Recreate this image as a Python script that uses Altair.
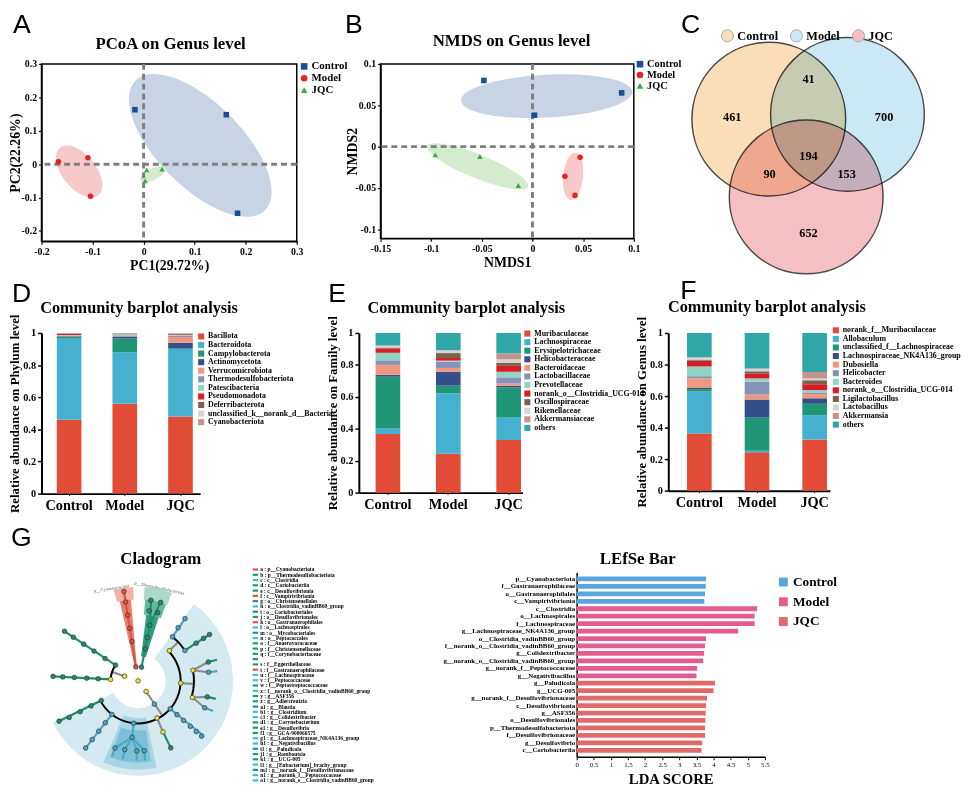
import altair as alt
import pandas as pd

SERIF = "Liberation Serif"
SANS = "Liberation Sans"
NUM = "'' + datum.value"

# ======================= DATA =======================
groups = ["Control", "Model", "JQC"]
panel_titles = ["PCoA on Genus level", "NMDS on Genus level", "Community barplot analysis",
                "Cladogram", "LEfSe Bar"]

# ---- A: PCoA ----
pcoa_group = ["Control", "Control", "Control", "Model", "Model", "Model", "JQC", "JQC", "JQC"]
pcoa_pc1 = [-0.017, 0.162, 0.184, -0.167, -0.109, -0.104, 0.006, 0.036, 0.003]
pcoa_pc2 = [0.163, 0.148, -0.147, 0.007, 0.019, -0.096, -0.017, -0.015, -0.050]
pcoa_ell_x = [0.111, -0.126, 0.018]
pcoa_ell_y = [0.056, -0.022, -0.030]
pcoa_ticks = [-0.2, -0.1, 0, 0.1, 0.2, 0.3]

# ---- B: NMDS ----
nmds_group = ["Control", "Control", "Control", "Model", "Model", "Model", "JQC", "JQC", "JQC"]
nmds_1 = [-0.048, 0.088, 0.002, 0.047, 0.032, 0.042, -0.096, -0.052, -0.014]
nmds_2 = [0.080, 0.065, 0.038, -0.013, -0.036, -0.059, -0.010, -0.012, -0.047]
nmds_ell_x = [0.014, 0.040, -0.054]
nmds_ell_y = [0.061, -0.036, -0.024]
nmds_ticks_x = [-0.15, -0.1, -0.05, 0, 0.05, 0.1]
nmds_ticks_y = [-0.1, -0.05, 0, 0.05, 0.1]

# ---- C: Venn ----
venn_sets = ["Control", "Model", "JQC"]
venn_cx = [0.0, 1.01, 0.48]
venn_cy = [0.0, 0.06, -1.0]
venn_counts = ["461", "41", "700", "194", "90", "153", "652"]
venn_count_x = [-0.47, 0.51, 1.48, 0.51, 0.01, 1.0, 0.51]
venn_count_y = [0.03, 0.51, 0.03, -0.47, -0.71, -0.71, -1.46]

# ---- D: phylum ----
phylum_taxa = ["Bacillota", "Bacteroidota", "Campylobacterota", "Actinomycetota", "Verrucomicrobiota",
               "Thermodesulfobacteriota", "Patescibacteria", "Pseudomonadota", "Deferribacterota",
               "unclassified_k__norank_d__Bacteria", "Cyanobacteriota"]
phylum_control = [0.460, 0.505, 0.012, 0.003, 0.002, 0.002, 0.003, 0.008, 0.002, 0.001, 0.002]
phylum_model = [0.560, 0.320, 0.085, 0.013, 0.002, 0.005, 0.008, 0.002, 0.002, 0.001, 0.002]
phylum_jqc = [0.480, 0.420, 0.005, 0.035, 0.035, 0.008, 0.005, 0.004, 0.003, 0.001, 0.004]

# ---- E: family ----
family_taxa = ["Muribaculaceae", "Lachnospiraceae", "Erysipelotrichaceae", "Helicobacteraceae",
               "Bacteroidaceae", "Lactobacillaceae", "Prevotellaceae", "norank_o__Clostridia_UCG-014",
               "Oscillospiraceae", "Rikenellaceae", "Akkermansiaceae", "others"]
family_control = [0.367, 0.035, 0.324, 0.012, 0.062, 0.029, 0.047, 0.027, 0.006, 0.010, 0.003, 0.078]
family_model = [0.243, 0.380, 0.047, 0.087, 0.024, 0.040, 0.006, 0.016, 0.031, 0.017, 0.002, 0.107]
family_jqc = [0.330, 0.140, 0.190, 0.010, 0.015, 0.037, 0.035, 0.037, 0.018, 0.023, 0.037, 0.128]

# ---- F: genus ----
genus_taxa = ["norank_f__Muribaculaceae", "Allobaculum", "unclassified_f__Lachnospiraceae",
              "Lachnospiraceae_NK4A136_group", "Dubosiella", "Helicobacter", "Bacteroides",
              "norank_o__Clostridia_UCG-014", "Ligilactobacillus", "Lactobacillus", "Akkermansia", "others"]
genus_control = [0.362, 0.266, 0.016, 0.010, 0.058, 0.014, 0.062, 0.035, 0.005, 0.016, 0.002, 0.154]
genus_model = [0.243, 0.010, 0.210, 0.115, 0.031, 0.082, 0.021, 0.029, 0.016, 0.015, 0.002, 0.226]
genus_jqc = [0.325, 0.154, 0.072, 0.035, 0.027, 0.010, 0.015, 0.037, 0.025, 0.012, 0.041, 0.247]
bar_ticks = [0, 0.2, 0.4, 0.6, 0.8, 1]

# ---- G: cladogram ----
clado_classes = ["Control", "Model", "JQC", "none"]
sect_a1 = [36, 168, 171, 345, 347, 4, 5, 7]
sect_a2 = [244, 203, 200, 357, 355, 21, 20, 18]
sect_r1 = [31, 42, 56, 92, 14, 92, 75, 28]
sect_r2 = [107, 100, 92, 106, 92, 106, 92, 75]
arc_r = [48, 63, 63, 31]
arc_a1 = [45, 38, 79, 273]
arc_a2 = [242, 57, 107, 305]
edge_a1 = [351, 14, 12, 12, 289, 305, 273, 143, 46, 38, 57, 93, 79, 79, 75, 83, 107, 107, 103, 112,
           131, 153, 154, 186, 186, 186, 186, 186, 175, 181, 191, 199, 218, 242]
edge_r1 = [16, 16, 64, 64, 16, 31, 31, 15, 49, 63, 63, 48, 63, 63, 82, 80, 64, 64, 80, 81,
           48, 47, 64, 48, 64, 64, 64, 64, 79, 79, 79, 80, 48, 47]
edge_a2 = [351, 12, 9, 16, 289, 304, 273, 145, 46, 37, 57, 93, 75, 83, 75, 83, 103, 112, 103, 112,
           130, 154, 154, 186, 175, 181, 191, 199, 175, 181, 191, 199, 218, 243]
edge_r2 = [104, 64, 94, 94, 31, 102, 97, 48, 63, 90, 96, 63, 82, 80, 92, 90, 80, 81, 90, 91,
           95, 64, 84, 64, 79, 79, 79, 80, 90, 90, 90, 90, 97, 101]
edge_cls = ["Control", "JQC", "JQC", "JQC", "none", "JQC", "JQC", "none", "none", "Model",
            "JQC", "none", "none", "none", "JQC", "Model", "none", "none", "JQC", "Model",
            "Model", "none", "JQC", "Model", "Model", "Model", "Model", "Model", "Model", "Model",
            "Model", "Model", "Model", "JQC"]
node_a = [0,
          351, 351, 351, 351, 351, 351,
          14, 13, 12, 12, 9, 16, 9, 16,
          289, 273, 305,
          304, 304, 304, 304, 304,
          273, 273, 273, 273, 273,
          143, 145,
          46, 93, 131, 153, 186, 218, 242,
          38, 57, 37, 37, 57, 57, 57,
          79, 107,
          75, 83, 103, 112,
          131, 131, 131, 131, 131,
          154, 154,
          186,
          175, 181, 191, 199,
          218, 218, 218, 218,
          242, 242, 242, 243]
node_r = [0,
          16, 45, 60, 75, 90, 102,
          16, 37, 50, 64, 80, 80, 92, 92,
          16, 31, 31,
          45, 60, 74, 88, 100,
          45, 58, 72, 85, 96,
          15, 32,
          49, 48, 48, 47, 48, 48, 47,
          63, 63, 75, 88, 78, 88, 96,
          63, 64,
          82, 80, 80, 81,
          58, 68, 78, 87, 95,
          64, 84,
          64,
          79, 79, 79, 80,
          60, 72, 84, 96,
          60, 74, 88, 100]
node_cls = (["none"] + ["Control"] * 6 + ["JQC"] * 8 + ["none", "none", "JQC"] + ["JQC"] * 10
            + ["none", "Model"] + ["none", "none", "Model", "none", "Model", "Model", "JQC"]
            + ["Model"] * 4 + ["JQC"] * 3 + ["none", "none"] + ["JQC", "Model", "JQC", "Model"]
            + ["Model"] * 5 + ["none", "JQC"] + ["Model"] + ["Model"] * 4 + ["Model"] * 4 + ["JQC"] * 4)
clado_phyla = ["p__Cyanobacteriota", "p__Thermodesulfobacteriota"]
clado_phyla_a = [344, 13]
clado_phyla_r = [108, 107]

# ---- G: clade key ----
key_code = ["a", "b", "c", "d", "e", "f", "g", "h", "i", "j", "k", "l", "m", "n", "o", "p", "q", "r",
            "s", "t", "u", "v", "w", "x", "y", "z", "a1", "b1", "c1", "d1", "e1", "f1", "g1", "h1",
            "i1", "j1", "k1", "l1", "m1", "n1", "o1"]
key_name = ["p__Cyanobacteriota", "p__Thermodesulfobacteriota", "c__Clostridia", "c__Coriobacteriia",
            "c__Desulfovibrionia", "c__Vampirivibrionia", "o__Christensenellales",
            "o__Clostridia_vadinBB60_group", "o__Coriobacteriales", "o__Desulfovibrionales",
            "o__Gastranaerophilales", "o__Lachnospirales", "o__Mycobacteriales", "o__Peptococcales",
            "f__Anaerovoracaceae", "f__Christensenellaceae", "f__Corynebacteriaceae", "",
            "f__Eggerthellaceae", "f__Gastranaerophilaceae", "f__Lachnospiraceae", "f__Peptococcaceae",
            "f__Peptostreptococcaceae", "f__norank_o__Clostridia_vadinBB60_group", "g__ASF356",
            "g__Adlercreutzia", "g__Blautia", "g__Clostridium", "g__Colidextribacter",
            "g__Corynebacterium", "g__Desulfovibrio", "g__GCA-900066575",
            "g__Lachnospiraceae_NK4A136_group", "g__Negativibacillus", "g__Paludicola",
            "g__Romboutsia", "g__UCG-005", "g__[Eubacterium]_brachy_group",
            "g__norank_f__Desulfovibrionaceae", "g__norank_f__Peptococcaceae",
            "g__norank_o__Clostridia_vadinBB60_group"]
key_cls = ["Control", "JQC", "Model", "JQC", "JQC", "Control", "JQC", "Model", "JQC", "JQC",
           "Control", "Model", "JQC", "Model", "JQC", "JQC", "JQC", "JQC", "JQC", "Control",
           "Model", "Model", "JQC", "Model", "JQC", "JQC", "JQC", "Model", "Model", "JQC",
           "JQC", "JQC", "Model", "Model", "JQC", "JQC", "JQC", "Model", "JQC", "Model", "Model"]

# ---- G: LEfSe ----
lefse_features = ["p__Cyanobacteriota", "f__Gastranaerophilaceae", "o__Gastranaerophilales",
                  "c__Vampirivibrionia", "c__Clostridia", "o__Lachnospirales", "f__Lachnospiraceae",
                  "g__Lachnospiraceae_NK4A136_group", "o__Clostridia_vadinBB60_group",
                  "f__norank_o__Clostridia_vadinBB60_group", "g__Colidextribacter",
                  "g__norank_o__Clostridia_vadinBB60_group", "g__norank_f__Peptococcaceae",
                  "g__Negativibacillus", "g__Paludicola", "g__UCG-005",
                  "g__norank_f__Desulfovibrionaceae", "c__Desulfovibrionia", "g__ASF356",
                  "o__Desulfovibrionales", "p__Thermodesulfobacteriota", "f__Desulfovibrionaceae",
                  "g__Desulfovibrio", "c__Coriobacteriia"]
lefse_group = ["Control"] * 4 + ["Model"] * 10 + ["JQC"] * 10
lefse_lda = [3.78, 3.77, 3.75, 3.73, 5.27, 5.20, 5.20, 4.72, 3.78, 3.75, 3.72, 3.70, 3.52, 3.50,
             4.04, 4.00, 3.81, 3.78, 3.77, 3.76, 3.75, 3.75, 3.67, 3.65]
lefse_ticks = [0, 0.5, 1, 1.5, 2, 2.5, 3, 3.5, 4, 4.5, 5, 5.5]

# ======================= STYLES =======================
SCATTER_COLORS = ["#1A4C97", "#E5231F", "#3BAA4A"]
SCATTER_SHAPES = ["square", "circle", "triangle-up"]
ELL_COLORS = ["#C8D4E3", "#F8C9C9", "#D5EBCE"]
PCOA_ELL = [(93, 0.46, 45), (31, 0.55, 51), (14, 0.42, 335)]
NMDS_ELL = [(87, 0.25, 357), (24, 0.42, 96), (55, 0.22, 22)]
VENN_COLORS = ["#F9DEB8", "#CBE9F5", "#F5C0C3"]
VENN_R = 78
PHYLUM_COLORS = ["#E24C36", "#45B0CF", "#1F9676", "#34508B", "#F0977D", "#8592BA", "#92D4C2",
                 "#DA1C26", "#7E6148", "#D5D5D5", "#C6928A"]
TAXA_COLORS = ["#E24C36", "#45B0CF", "#1F9676", "#34508B", "#F0977D", "#8592BA", "#92D4C2",
               "#DA1C26", "#7E6148", "#D5D5D5", "#C6928A", "#2FA7A9"]
CLADO_FILL = ["#E0523E", "#4AA8C4", "#1F8E6F", "#F2E530"]
CLADO_LINE = ["#E0523E", "#4AA8C4", "#1F8E6F", "#8C8C8C"]
SECT_COLORS = ["#D4E9F0", "#A8D5E3", "#7DC0D5", "#F3B2A6", "#E7806E", "#A9D9C9", "#62B99F", "#2F9E7F"]
LEFSE_COLORS = ["#5AA5DB", "#E45C8F", "#E06A6A"]
KEY_COLORS = ["#E0523E", "#4AB6D8", "#1F9676"]

INDEP = dict(color="independent", shape="independent", fill="independent", strokeWidth="independent")


def ellipse_path(k):
    return f"M -2 0 A 2 {2 * k} 0 1 1 2 0 A 2 {2 * k} 0 1 1 -2 0 Z"


def txt(t, x, y, size, font=SERIF, weight="bold", align="left", color="black"):
    return alt.Chart(pd.DataFrame({"t": [t]})).mark_text(
        font=font, fontSize=size, fontWeight=weight, align=align, baseline="alphabetic", color=color
    ).encode(text="t:N", x=alt.value(x), y=alt.value(y))


def letter(t, x, y):
    return txt(t, x, y, 27, font=SANS, weight="normal")


def spacer(w):
    return alt.Chart(pd.DataFrame({"v": [0]})).mark_point(opacity=0).encode(
        x=alt.value(0), y=alt.value(0)).properties(width=w, height=1)


def ordination(let, title, xlab, ylab, grp, xv, yv, ex, ey, est, xdom, ydom, xt, yt, w, h,
               title_xy, let_xy, leg_xy, ypad, lsize):
    xs = alt.Scale(domain=xdom, nice=False, zero=False)
    ys = alt.Scale(domain=ydom, nice=False, zero=False)
    common = dict(grid=False, domainColor="black", domainWidth=1.5, tickColor="black", tickWidth=1.2,
                  tickSize=3, labelFont=SERIF, labelFontWeight="bold", labelFontSize=10,
                  labelColor="black", labelExpr=NUM, labelFlush=False, labelOverlap=False,
                  titleFont=SERIF, titleFontWeight="bold", titleFontSize=14, titleColor="black",
                  labelPadding=2)
    ax = alt.Axis(values=xt, title=xlab, titlePadding=3, **common)
    ay = alt.Axis(values=yt, title=ylab, titlePadding=ypad, **common)
    layers = []
    for i in range(3):
        a, k, ang = est[i]
        d = pd.DataFrame({"ex": [ex[i]], "ey": [ey[i]]})
        layers.append(alt.Chart(d).mark_point(
            shape=ellipse_path(k), filled=True, color=ELL_COLORS[i], opacity=1, size=a * a,
            angle=ang, strokeWidth=0
        ).encode(x=alt.X("ex:Q", scale=xs, axis=ax), y=alt.Y("ey:Q", scale=ys, axis=ay)))
    zero = pd.DataFrame({"z": [0.0]})
    layers.append(alt.Chart(zero).mark_rule(color="#7F7F7F", strokeDash=[6, 4], strokeWidth=3).encode(
        x=alt.X("z:Q", scale=xs, axis=ax)))
    layers.append(alt.Chart(zero).mark_rule(color="#7F7F7F", strokeDash=[6, 4], strokeWidth=3).encode(
        y=alt.Y("z:Q", scale=ys, axis=ay)))
    pts = pd.DataFrame({"group": grp, "x": xv, "y": yv})
    leg = alt.Legend(title=None, orient="none", legendX=leg_xy[0], legendY=leg_xy[1],
                     labelFont=SERIF, labelFontWeight="bold", labelFontSize=lsize, labelColor="black",
                     symbolSize=45, symbolStrokeWidth=0, rowPadding=0, labelOffset=2)
    layers.append(alt.Chart(pts).mark_point(filled=True, size=32, opacity=1).encode(
        x=alt.X("x:Q", scale=xs, axis=ax), y=alt.Y("y:Q", scale=ys, axis=ay),
        color=alt.Color("group:N", scale=alt.Scale(domain=groups, range=SCATTER_COLORS), legend=leg),
        shape=alt.Shape("group:N", scale=alt.Scale(domain=groups, range=SCATTER_SHAPES), legend=leg)))
    layers.append(txt(title, title_xy[0], title_xy[1], 17, align="center"))
    layers.append(letter(let, let_xy[0], let_xy[1]))
    return alt.layer(*layers).properties(
        width=w, height=h, view=alt.ViewBackground(stroke="black", strokeWidth=1.5))


# ---------------- Row 1 ----------------
panel_a = ordination("A", panel_titles[0], "PC1(29.72%)", "PC2(22.26%)", pcoa_group, pcoa_pc1, pcoa_pc2,
                     pcoa_ell_x, pcoa_ell_y, PCOA_ELL, [-0.2, 0.3], [-0.231, 0.3], pcoa_ticks, pcoa_ticks,
                     259, 180, (131, -15), (-29, -31), (261, -3), -2, 11)
panel_b = ordination("B", panel_titles[1], "NMDS1", "NMDS2", nmds_group, nmds_1, nmds_2,
                     nmds_ell_x, nmds_ell_y, NMDS_ELL, [-0.15, 0.1], [-0.111, 0.1], nmds_ticks_x,
                     nmds_ticks_y, 257, 177, (133, -18), (-36, -31), (258, -5), -4, 10.5)

vxs = alt.Scale(domain=[-0.658, 2.0], nice=False, zero=False)
vys = alt.Scale(domain=[-1.557, 0.709], nice=False, zero=False)
venn_leg = alt.Legend(title=None, orient="none", legendX=3, legendY=-36, direction="horizontal",
                      symbolType="circle", symbolSize=150, symbolStrokeColor="#AAAAAA",
                      symbolStrokeWidth=1, labelFont=SERIF, labelFontWeight="bold", labelFontSize=12.5,
                      labelColor="black", columnPadding=9, labelOffset=3)
venn_circles = alt.Chart(pd.DataFrame({"set": venn_sets, "cx": venn_cx, "cy": venn_cy})).mark_point(
    shape="circle", filled=True, size=(2 * VENN_R) ** 2, opacity=1, stroke="#4A4A4A", strokeWidth=1.5,
    blend="multiply"
).encode(x=alt.X("cx:Q", scale=vxs, axis=None), y=alt.Y("cy:Q", scale=vys, axis=None),
         color=alt.Color("set:N", scale=alt.Scale(domain=venn_sets, range=VENN_COLORS), legend=venn_leg))
venn_text = alt.Chart(pd.DataFrame({"n": venn_counts, "x": venn_count_x, "y": venn_count_y})).mark_text(
    font=SERIF, fontWeight="bold", fontSize=12.5, color="black", align="center", baseline="middle"
).encode(x=alt.X("x:Q", scale=vxs, axis=None), y=alt.Y("y:Q", scale=vys, axis=None), text="n:N")
panel_c = alt.layer(venn_circles, venn_text, letter("C", -37, -31)).properties(width=210, height=179)

row1 = alt.hconcat(panel_a, spacer(85), panel_b, spacer(85), panel_c, spacing=0,
                   bounds="flush").resolve_scale(**INDEP).resolve_legend(color="independent",
                                                                         shape="independent")


# ---------------- Row 2 ----------------
def community(let, lvl, taxa, colors, vals, w, h, band, leg_xy, title_xy, let_xy):
    rows = []
    for g, vv in zip(groups, vals):
        for i, (t, v) in enumerate(zip(taxa, vv)):
            rows.append({"group": g, "taxon": t, "idx": i, "value": v})
    df = pd.DataFrame(rows)
    pi, po, al = band
    xa = alt.Axis(title=None, labelAngle=0, labelFont=SERIF, labelFontWeight="bold", labelFontSize=14.5,
                  labelColor="black", domainColor="black", domainWidth=2, tickColor="black",
                  tickSize=2, labelPadding=3)
    ya = alt.Axis(title=f"Relative abundance on {lvl} level", values=bar_ticks, labelExpr=NUM, grid=False,
                  domainColor="black", domainWidth=2, tickColor="black", tickWidth=1.5, tickSize=4,
                  labelFont=SERIF, labelFontWeight="bold", labelFontSize=10.5, labelColor="black",
                  labelFlush=False, titleFont=SERIF, titleFontWeight="bold", titleFontSize=13,
                  titleColor="black", titlePadding=1, labelPadding=2)
    leg = alt.Legend(title=None, orient="none", legendX=leg_xy[0], legendY=leg_xy[1], symbolType="square",
                     symbolSize=38, symbolStrokeWidth=0, labelFont=SERIF, labelFontWeight="bold",
                     labelFontSize=8, labelColor="black", rowPadding=0.7, labelOffset=3, labelLimit=400)
    bars = alt.Chart(df).mark_bar().encode(
        x=alt.X("group:N", sort=groups, scale=alt.Scale(paddingInner=pi, paddingOuter=po, align=al), axis=xa),
        y=alt.Y("value:Q", stack="zero", scale=alt.Scale(domain=[0, 1], nice=False), axis=ya),
        color=alt.Color("taxon:N", sort=taxa, scale=alt.Scale(domain=taxa, range=colors), legend=leg),
        order=alt.Order("idx:Q", sort="ascending"))
    return alt.layer(bars, txt(panel_titles[2], title_xy[0], title_xy[1], 16.5, align="center"),
                     letter(let, let_xy[0], let_xy[1])).properties(width=w, height=h)


panel_d = community("D", "Phylum", phylum_taxa, PHYLUM_COLORS, [phylum_control, phylum_model, phylum_jqc],
                    161, 163, (0.5575, 0.2035, 0.674), (158, -0.5), (99, -20), (-30, -31))
panel_e = community("E", "Family", family_taxa, TAXA_COLORS, [family_control, family_model, family_jqc],
                    166, 162, (0.5918, 0.151, 0.919), (167, -3.4), (109, -20), (-31, -31))
panel_f = community("F", "Genus", genus_taxa, TAXA_COLORS, [genus_control, genus_model, genus_jqc],
                    164, 160, (0.5726, 0.188, 0.864), (166, -6.7), (100, -21), (12, -34))
row2 = alt.hconcat(panel_d, spacer(161), panel_e, spacer(148), panel_f, spacing=0,
                   bounds="flush").resolve_scale(**INDEP).resolve_legend(color="independent")

# ---------------- Row 3 ----------------
K = 0.9
CW, CH, CX0, CY0 = 210, 187, 98, 110
cxs = alt.Scale(domain=[-CX0 / K, (CW - CX0) / K], nice=False, zero=False)
cys = alt.Scale(domain=[-(CH - CY0) / K, CY0 / K], nice=False, zero=False)
th_scale = alt.Scale(domain=[0, 360], range=[0, 6.283185307179586])
rad_scale = alt.Scale(type="linear", domain=[0, 100], range=[0, 100 * K], zero=True)
CX = alt.X("cx:Q", scale=cxs, axis=None)
CY = alt.Y("cy:Q", scale=cys, axis=None)

clado_layers = []
for i in range(len(sect_a1)):
    d = pd.DataFrame({"cx": [0], "cy": [0], "a1": [sect_a1[i]], "a2": [sect_a2[i]],
                      "r1": [sect_r1[i]], "r2": [sect_r2[i]]})
    clado_layers.append(alt.Chart(d).mark_arc(color=SECT_COLORS[i], opacity=1).encode(
        x=CX, y=CY, theta=alt.Theta("a1:Q", scale=th_scale, stack=None), theta2="a2:Q",
        radius=alt.Radius("r2:Q", scale=rad_scale), radius2="r1:Q"))

edf = pd.DataFrame({"a1": edge_a1, "r1": edge_r1, "a2": edge_a2, "r2": edge_r2, "cls": edge_cls})
clado_layers.append(alt.Chart(edf).transform_calculate(
    x1="datum.r1 * sin(datum.a1 * PI / 180)", y1="datum.r1 * cos(datum.a1 * PI / 180)",
    x2="datum.r2 * sin(datum.a2 * PI / 180)", y2="datum.r2 * cos(datum.a2 * PI / 180)"
).mark_rule().encode(
    x=alt.X("x1:Q", scale=cxs, axis=None), y=alt.Y("y1:Q", scale=cys, axis=None),
    x2="x2:Q", y2="y2:Q",
    color=alt.Color("cls:N", scale=alt.Scale(domain=clado_classes, range=CLADO_LINE), legend=None),
    strokeWidth=alt.StrokeWidth("cls:N", scale=alt.Scale(domain=clado_classes, range=[2.2, 2.2, 2.2, 1]),
                                legend=None)))

adf = pd.DataFrame({"cx": [0] * len(arc_r), "cy": [0] * len(arc_r), "r": arc_r, "a1": arc_a1, "a2": arc_a2})
clado_layers.append(alt.Chart(adf).transform_calculate(
    ro="datum.r + 1.1", ri="datum.r - 1.1").mark_arc(color="black").encode(
    x=CX, y=CY, theta=alt.Theta("a1:Q", scale=th_scale, stack=None), theta2="a2:Q",
    radius=alt.Radius("ro:Q", scale=rad_scale), radius2="ri:Q"))

ndf = pd.DataFrame({"a": node_a, "r": node_r, "cls": node_cls})
clado_leg = alt.Legend(title=None, orient="none", legendX=-16.5, legendY=-9, values=groups,
                       symbolType="circle", symbolSize=121, symbolStrokeColor="black", symbolStrokeWidth=1.5,
                       labelFont=SERIF, labelFontWeight="bold", labelFontSize=13.5, labelColor="black",
                       rowPadding=3, labelOffset=2)
clado_layers.append(alt.Chart(ndf).transform_calculate(
    x="datum.r * sin(datum.a * PI / 180)", y="datum.r * cos(datum.a * PI / 180)"
).mark_circle(size=22, opacity=1, stroke="#333333", strokeWidth=0.7).encode(
    x=alt.X("x:Q", scale=cxs, axis=None), y=alt.Y("y:Q", scale=cys, axis=None),
    fill=alt.Fill("cls:N", scale=alt.Scale(domain=clado_classes, range=CLADO_FILL), legend=clado_leg)))

for i in range(len(clado_phyla)):
    d = pd.DataFrame({"t": [clado_phyla[i]], "a": [clado_phyla_a[i]], "r": [clado_phyla_r[i]]})
    clado_layers.append(alt.Chart(d).transform_calculate(
        x="datum.r * sin(datum.a * PI / 180)", y="datum.r * cos(datum.a * PI / 180)"
    ).mark_text(font=SERIF, fontSize=4.5, color="#555555", angle=[352, 12][i], align="center").encode(
        x=alt.X("x:Q", scale=cxs, axis=None), y=alt.Y("y:Q", scale=cys, axis=None), text="t:N"))

clado_layers.append(txt(panel_titles[3], 121, -9, 17, align="center"))
clado_layers.append(letter("G", -31, -27))
# invisible anchor that keeps the gap above row G as in the figure
clado_layers.append(alt.Chart(pd.DataFrame({"v": [0]})).mark_point(opacity=0, size=1).encode(
    x=alt.value(0), y=alt.value(-59)))
panel_g = alt.layer(*clado_layers).properties(width=CW, height=CH)

# clade key list
KEY_STEP = 5.35
key_labels = [f"{c} : {n}" if n else "" for c, n in zip(key_code, key_name)]
kdf = pd.DataFrame({"i": list(range(len(key_code))), "label": key_labels, "cls": key_cls})
d0 = 3 / KEY_STEP
kys = alt.Scale(domain=[d0, d0 + CH / KEY_STEP], reverse=True, nice=False, zero=False)
key_dash = alt.Chart(kdf).mark_point(shape="M -1 -0.4 L 1 -0.4 L 1 0.4 L -1 0.4 Z", filled=True,
                                      size=30, opacity=1).encode(
    x=alt.value(3), y=alt.Y("i:Q", scale=kys, axis=None),
    color=alt.Color("cls:N", scale=alt.Scale(domain=groups, range=KEY_COLORS), legend=None))
key_text = alt.Chart(kdf).mark_text(font=SERIF, fontWeight="bold", fontSize=5.5, color="black",
                                     align="left", baseline="middle").encode(
    x=alt.value(8), y=alt.Y("i:Q", scale=kys, axis=None), text="label:N")
panel_key = alt.layer(key_dash, key_text).properties(width=200, height=CH)

# LEfSe
ldf = pd.DataFrame({"feature": lefse_features, "group": lefse_group, "lda": lefse_lda})
lefse_leg = alt.Legend(title=None, orient="none", legendX=203, legendY=3, symbolType="square",
                       symbolSize=81, symbolStrokeWidth=0, labelFont=SERIF, labelFontWeight="bold",
                       labelFontSize=13.5, labelColor="black", rowPadding=5, labelOffset=3)
lefse_bars = alt.Chart(ldf).mark_bar().encode(
    y=alt.Y("feature:N", sort=lefse_features, scale=alt.Scale(paddingInner=0.36, paddingOuter=0.55),
            axis=alt.Axis(title=None, labelFont=SERIF, labelFontWeight="bold", labelFontSize=7,
                          labelColor="black", ticks=False, domainColor="black", domainWidth=1.5,
                          labelPadding=2, labelLimit=300)),
    x=alt.X("lda:Q", scale=alt.Scale(domain=[0, 5.5], nice=False),
            axis=alt.Axis(title="LDA SCORE", values=lefse_ticks, labelExpr=NUM, grid=False,
                          labelFont=SERIF, labelFontSize=7, labelColor="black", labelFlush=False,
                          labelOverlap=False, tickColor="black", tickSize=3, tickWidth=1,
                          domainColor="black", domainWidth=1.5, titleFont=SERIF, titleFontWeight="bold",
                          titleFontSize=15, titleColor="black", titlePadding=4, labelPadding=1)),
    color=alt.Color("group:N", scale=alt.Scale(domain=groups, range=LEFSE_COLORS), legend=lefse_leg))
panel_lefse = alt.layer(lefse_bars, txt(panel_titles[4], 62, -9, 17, align="center")).properties(
    width=191, height=CH)

row3 = alt.hconcat(panel_g, spacer(4), panel_key, spacer(129), panel_lefse, spacing=0,
                   bounds="flush").resolve_scale(**INDEP).resolve_legend(color="independent",
                                                                         fill="independent")

chart = alt.vconcat(row1, row2, row3, spacing=0).resolve_scale(**INDEP).resolve_legend(
    color="independent", shape="independent", fill="independent").properties(
    padding={"top": -3, "left": 0, "right": 0, "bottom": 0}, background="white"
).configure_view(stroke=None)

chart.save("out.html", embed_options={"renderer": "svg", "actions": False})
